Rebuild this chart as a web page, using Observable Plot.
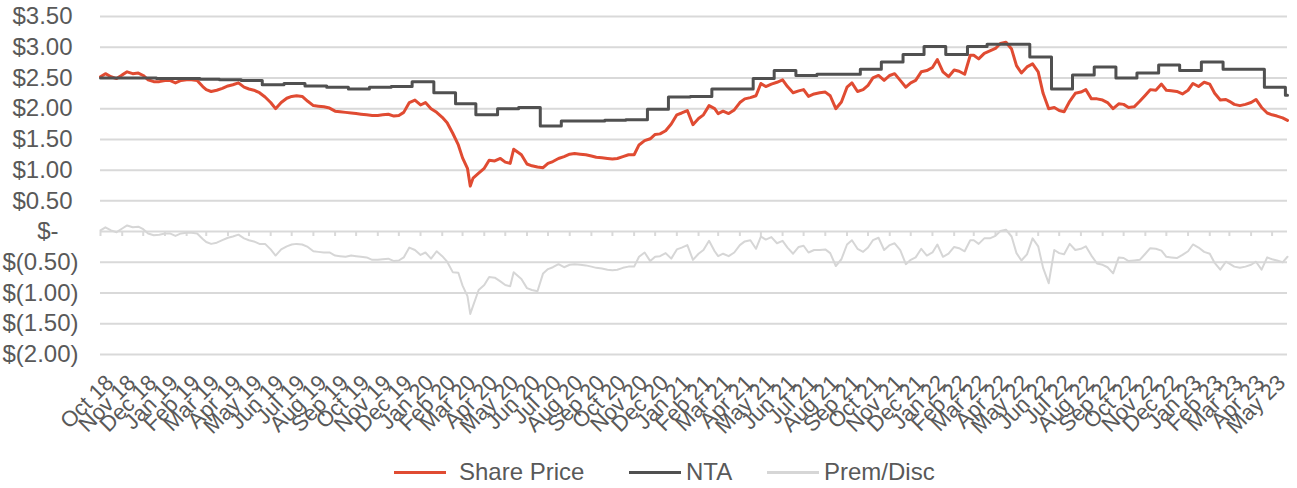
<!DOCTYPE html>
<html><head><meta charset="utf-8">
<script src="https://cdn.jsdelivr.net/npm/d3@7"></script>
<script src="https://cdn.jsdelivr.net/npm/@observablehq/plot@0.6"></script>
<style>
html,body{margin:0;padding:0;background:#fff;}
body{width:1297px;height:488px;position:relative;overflow:hidden;font-family:"Liberation Sans",Arial,sans-serif;}
#chart{position:absolute;left:0;top:0;}
#legend{position:absolute;left:0;top:452px;width:1297px;height:40px;}
.sw{position:absolute;height:3px;top:19px;}
.lt{position:absolute;top:0;font-size:24px;line-height:40px;color:#595959;white-space:nowrap;}
</style></head><body>
<div id="chart"></div>
<div id="legend"></div>
<script>
// ---- data ----
const priceDates = [
"2018-10-01","2018-10-08","2018-10-16","2018-10-24",
"2018-11-01","2018-11-08","2018-11-16","2018-11-24",
"2018-12-01","2018-12-08","2018-12-16","2018-12-24",
"2019-01-01","2019-01-08","2019-01-16","2019-01-24",
"2019-02-01","2019-02-08","2019-02-16","2019-02-24",
"2019-03-01","2019-03-08","2019-03-16","2019-03-24",
"2019-04-01","2019-04-08","2019-04-16","2019-04-24",
"2019-05-01","2019-05-08","2019-05-16","2019-05-24",
"2019-06-01","2019-06-08","2019-06-16","2019-06-24",
"2019-07-01","2019-07-08","2019-07-16","2019-07-24",
"2019-08-01","2019-08-08","2019-08-16","2019-08-24",
"2019-09-01","2019-09-08","2019-09-16","2019-09-24",
"2019-10-01","2019-10-08","2019-10-16","2019-10-24",
"2019-11-01","2019-11-08","2019-11-16","2019-11-24",
"2019-12-01","2019-12-08","2019-12-16","2019-12-24",
"2020-01-01","2020-01-08","2020-01-16","2020-01-24",
"2020-02-01","2020-02-08","2020-02-16","2020-02-24",
"2020-03-01","2020-03-08","2020-03-12","2020-03-16","2020-03-24",
"2020-04-01","2020-04-08","2020-04-16","2020-04-24",
"2020-05-01","2020-05-08","2020-05-13","2020-05-24",
"2020-06-01","2020-06-08","2020-06-16","2020-06-24",
"2020-07-01","2020-07-08","2020-07-16","2020-07-24",
"2020-08-01","2020-08-08","2020-08-16","2020-08-24",
"2020-09-01","2020-09-08","2020-09-16","2020-09-24",
"2020-10-01","2020-10-08","2020-10-16","2020-10-24",
"2020-11-01","2020-11-08","2020-11-16","2020-11-24",
"2020-12-01","2020-12-08","2020-12-16","2020-12-24",
"2021-01-01","2021-01-08","2021-01-16","2021-01-24",
"2021-02-01","2021-02-08","2021-02-16","2021-02-24",
"2021-03-01","2021-03-08","2021-03-16","2021-03-24",
"2021-04-01","2021-04-08","2021-04-16","2021-04-24",
"2021-05-01","2021-05-08","2021-05-16","2021-05-24",
"2021-06-01","2021-06-08","2021-06-16","2021-06-24",
"2021-07-01","2021-07-08","2021-07-16","2021-07-24",
"2021-08-01","2021-08-08","2021-08-16","2021-08-24",
"2021-09-01","2021-09-08","2021-09-16","2021-09-24",
"2021-10-01","2021-10-08","2021-10-16","2021-10-24",
"2021-11-01","2021-11-08","2021-11-16","2021-11-24",
"2021-12-01","2021-12-08","2021-12-16","2021-12-24",
"2022-01-01","2022-01-08","2022-01-16","2022-01-24",
"2022-02-01","2022-02-08","2022-02-16","2022-02-24",
"2022-03-01","2022-03-08","2022-03-16","2022-03-24",
"2022-04-01","2022-04-08","2022-04-16","2022-04-24",
"2022-05-01","2022-05-08","2022-05-16","2022-05-24",
"2022-06-01","2022-06-08","2022-06-16","2022-06-24",
"2022-07-01","2022-07-08","2022-07-16","2022-07-24",
"2022-08-01","2022-08-08","2022-08-16","2022-08-24",
"2022-09-01","2022-09-08","2022-09-16","2022-09-24",
"2022-10-01","2022-10-08","2022-10-16","2022-10-24",
"2022-11-01","2022-11-08","2022-11-16","2022-11-24",
"2022-12-01","2022-12-08","2022-12-16","2022-12-24",
"2023-01-01","2023-01-08","2023-01-16","2023-01-24",
"2023-02-01","2023-02-08","2023-02-16","2023-02-24",
"2023-03-01","2023-03-08","2023-03-16","2023-03-24",
"2023-04-01","2023-04-08","2023-04-16","2023-04-24",
"2023-05-01","2023-05-08","2023-05-16","2023-05-23"
];
const sharePrice = [
2.52,2.57,2.52,2.49, 2.55,2.60,2.57,2.58, 2.54,2.47,2.44,2.44,
2.46,2.46,2.42,2.46, 2.47,2.47,2.46,2.36, 2.31,2.28,2.30,2.33,
2.37,2.39,2.42,2.35, 2.32,2.30,2.26,2.19, 2.10,2.00,2.10,2.17,
2.20,2.21,2.20,2.12, 2.05,2.04,2.03,2.01, 1.96,1.95,1.94,1.93,
1.92,1.91,1.90,1.89, 1.89,1.90,1.91,1.88, 1.89,1.94,2.10,2.14,
2.06,2.10,2.00,1.94, 1.86,1.77,1.60,1.41, 1.20,1.03,0.74,0.87,0.95,
1.03,1.16,1.15,1.19, 1.13,1.11,1.34,1.25, 1.10,1.07,1.05,1.04,
1.11,1.14,1.19,1.22, 1.26,1.27,1.26,1.25, 1.23,1.21,1.20,1.19,
1.18,1.19,1.22,1.25, 1.25,1.41,1.48,1.51, 1.58,1.59,1.64,1.75,
1.90,1.93,1.97,1.74, 1.84,1.90,2.05,2.00, 1.92,1.96,1.92,1.98,
2.10,2.16,2.18,2.21, 2.41,2.36,2.40,2.43, 2.47,2.36,2.26,2.29,
2.31,2.20,2.24,2.26, 2.27,2.21,2.00,2.11, 2.35,2.42,2.28,2.31,
2.38,2.50,2.54,2.46, 2.54,2.57,2.46,2.35, 2.42,2.46,2.60,2.62,
2.67,2.80,2.60,2.52, 2.63,2.61,2.56,2.87, 2.87,2.81,2.90,2.94,
2.98,3.06,3.08,2.97, 2.70,2.58,2.68,2.73, 2.60,2.25,2.00,2.02,
1.97,1.95,2.12,2.25, 2.27,2.31,2.16,2.16, 2.14,2.10,2.00,2.08,
2.07,2.02,2.03,2.12, 2.22,2.31,2.30,2.40, 2.30,2.29,2.28,2.24,
2.30,2.41,2.36,2.43, 2.40,2.25,2.14,2.15, 2.12,2.07,2.05,2.07,
2.10,2.15,2.02,1.93, 1.90,1.88,1.85,1.81
];
const premDisc = [
0.02,0.07,0.02,-0.01, 0.05,0.10,0.07,0.08, 0.04,-0.03,-0.06,-0.05,
-0.03,-0.03,-0.07,-0.03, -0.02,-0.02,-0.03,-0.12, -0.17,-0.20,-0.18,-0.14,
-0.10,-0.08,-0.05,-0.11, -0.14,-0.16,-0.20,-0.20, -0.29,-0.39,-0.29,-0.24,
-0.21,-0.20,-0.21,-0.25, -0.32,-0.33,-0.34,-0.34, -0.39,-0.40,-0.41,-0.39,
-0.40,-0.41,-0.42,-0.46, -0.46,-0.45,-0.44,-0.48, -0.47,-0.42,-0.26,-0.30,
-0.38,-0.34,-0.44,-0.32, -0.40,-0.49,-0.66,-0.67, -0.88,-1.05,-1.34,-1.21,-0.95,
-0.87,-0.74,-0.75,-0.81, -0.87,-0.89,-0.66,-0.77, -0.92,-0.95,-0.97,-0.68,
-0.61,-0.58,-0.53,-0.58, -0.54,-0.53,-0.54,-0.55, -0.57,-0.59,-0.60,-0.62,
-0.63,-0.62,-0.59,-0.57, -0.57,-0.41,-0.34,-0.48, -0.41,-0.40,-0.35,-0.44,
-0.29,-0.26,-0.22,-0.46, -0.36,-0.30,-0.15,-0.32, -0.40,-0.36,-0.40,-0.34,
-0.22,-0.16,-0.14,-0.28, -0.08,-0.13,-0.09,-0.19, -0.15,-0.26,-0.36,-0.25,
-0.23,-0.34,-0.30,-0.30, -0.29,-0.35,-0.56,-0.45, -0.21,-0.14,-0.28,-0.33,
-0.26,-0.14,-0.10,-0.30, -0.22,-0.19,-0.30,-0.53, -0.46,-0.42,-0.28,-0.39,
-0.34,-0.21,-0.41,-0.36, -0.25,-0.27,-0.32,-0.14, -0.14,-0.20,-0.11,-0.11,
-0.07,0.01,0.03,-0.08, -0.35,-0.47,-0.37,-0.11, -0.24,-0.59,-0.84,-0.30,
-0.35,-0.37,-0.20,-0.30, -0.28,-0.24,-0.39,-0.52, -0.54,-0.58,-0.68,-0.42,
-0.43,-0.48,-0.47,-0.46, -0.36,-0.27,-0.28,-0.31, -0.41,-0.42,-0.43,-0.38,
-0.32,-0.21,-0.26,-0.33, -0.36,-0.51,-0.62,-0.49, -0.52,-0.57,-0.59,-0.57,
-0.54,-0.49,-0.62,-0.42, -0.45,-0.47,-0.50,-0.41
];
const ntaDates = [
"2018-10-01","2018-10-20","2018-11-20","2018-12-20",
"2019-01-20","2019-02-20","2019-03-20","2019-04-20","2019-05-20","2019-06-20","2019-07-20","2019-08-20","2019-09-20","2019-10-20","2019-11-20","2019-12-20",
"2020-01-20","2020-02-20","2020-03-20","2020-04-20","2020-05-20","2020-06-20","2020-07-20","2020-08-20","2020-09-20","2020-10-20","2020-11-20","2020-12-20",
"2021-01-20","2021-02-20","2021-03-20","2021-04-20","2021-05-20","2021-06-20","2021-07-20","2021-08-20","2021-09-20","2021-10-20","2021-11-20","2021-12-20",
"2022-01-20","2022-02-20","2022-03-20","2022-04-20","2022-05-20","2022-06-20","2022-07-20","2022-08-20","2022-09-20","2022-10-20","2022-11-20","2022-12-20",
"2023-01-20","2023-02-20","2023-03-20","2023-04-20","2023-05-20","2023-05-23"
];
const nta = [
2.50,2.50,2.50,2.49,
2.49,2.48,2.47,2.46,2.39,2.41,2.37,2.35,2.32,2.35,2.36,2.44,
2.26,2.08,1.90,2.00,2.02,1.72,1.80,1.80,1.81,1.82,1.99,2.19,
2.20,2.32,2.32,2.49,2.62,2.54,2.56,2.56,2.64,2.76,2.88,3.01,
2.88,3.01,3.05,3.05,2.84,2.32,2.55,2.68,2.50,2.58,2.71,2.62,
2.76,2.64,2.64,2.35,2.22,2.22
];
const xTickLabels = ["Oct 18","Nov 18","Dec 18","Jan 19","Feb 19","Mar 19","Apr 19","May 19","Jun 19","Jul 19","Aug 19","Sep 19","Oct 19","Nov 19","Dec 19",
"Jan 20","Feb 20","Mar 20","Apr 20","May 20","Jun 20","Jul 20","Aug 20","Sep 20","Oct 20","Nov 20","Dec 20",
"Jan 21","Feb 21","Mar 21","Apr 21","May 21","Jun 21","Jul 21","Aug 21","Sep 21","Oct 21","Nov 21","Dec 21",
"Jan 22","Feb 22","Mar 22","Apr 22","May 22","Jun 22","Jul 22","Aug 22","Sep 22","Oct 22","Nov 22","Dec 22",
"Jan 23","Feb 23","Mar 23","Apr 23","May 23"];
const yTicks = [3.5, 3.0, 2.5, 2.0, 1.5, 1.0, 0.5, 0, -0.5, -1.0, -1.5, -2.0];
const yTickLabels = ["$3.50","$3.00","$2.50","$2.00","$1.50","$1.00","$0.50","$-","$(0.50)","$(1.00)","$(1.50)","$(2.00)"];
const seriesNames = ["Share Price", "NTA", "Prem/Disc"];
const seriesColors = ["#e04b32", "#505050", "#d6d6d6"];

// ---- build tables ----
const parse = d3.utcParse("%Y-%m-%d");
const parseMonth = d3.utcParse("%b %y");
const priceRows = priceDates.map((d, i) => ({date: parse(d), price: sharePrice[i], prem: premDisc[i]}));
const ntaRows = ntaDates.map((d, i) => ({date: parse(d), nta: nta[i]}));
const tickDates = xTickLabels.map(s => parseMonth(s));
const yRows = yTicks.map((v, i) => ({v, label: yTickLabels[i]}));
const textColor = "#595959";

const chart = Plot.plot({
  width: 1297,
  height: 445,
  marginLeft: 100,
  marginRight: 10,
  marginTop: 16,
  marginBottom: 91,
  style: {fontFamily: "'Liberation Sans', Arial, sans-serif", background: "white"},
  x: {type: "utc", domain: [parse(priceDates[0]), parse(priceDates[priceDates.length - 1])], axis: null},
  y: {domain: [-2, 3.5], axis: null},
  marks: [
    Plot.ruleY(yTicks, {stroke: "#d9d9d9", strokeWidth: 2}),
    Plot.ruleX(tickDates, {x: d => d, y1: 0, y2: -0.08, stroke: "#d9d9d9", strokeWidth: 2}),
    Plot.line(priceRows, {x: "date", y: "price", stroke: seriesColors[0], strokeWidth: 3}),
    Plot.line(ntaRows, {x: "date", y: "nta", stroke: seriesColors[1], strokeWidth: 3, curve: "step-after"}),
    Plot.line(priceRows, {x: "date", y: "prem", stroke: seriesColors[2], strokeWidth: 2}),
    Plot.text(tickDates, {x: d => d, text: xTickLabels, frameAnchor: "bottom", rotate: -45,
      textAnchor: "end", lineAnchor: "middle", dx: 9.5, dy: 24.5, fontSize: 22, fill: textColor}),
    Plot.text(yRows.filter(r => r.v > 0), {y: "v", text: "label", frameAnchor: "left", textAnchor: "end",
      lineAnchor: "middle", dx: -28, fontSize: 24, fill: textColor}),
    Plot.text(yRows.filter(r => r.v === 0), {y: "v", text: "label", frameAnchor: "left", textAnchor: "end",
      lineAnchor: "middle", dx: -42, fontSize: 24, fill: textColor}),
    Plot.text(yRows.filter(r => r.v < 0), {y: "v", text: "label", frameAnchor: "left", textAnchor: "end",
      lineAnchor: "middle", dx: -22, fontSize: 24, fill: textColor})
  ]
});
document.getElementById("chart").appendChild(chart);

// ---- legend ----
const legendPos = [{sw: 394, tx: 459}, {sw: 629, tx: 686}, {sw: 767, tx: 824}];
const legend = document.getElementById("legend");
seriesNames.forEach((name, i) => {
  const sw = document.createElement("div");
  sw.className = "sw";
  sw.style.left = legendPos[i].sw + "px";
  sw.style.width = "52px";
  sw.style.background = seriesColors[i];
  legend.appendChild(sw);
  const t = document.createElement("div");
  t.className = "lt";
  t.style.left = legendPos[i].tx + "px";
  t.textContent = name;
  legend.appendChild(t);
});
</script>
</body></html>
